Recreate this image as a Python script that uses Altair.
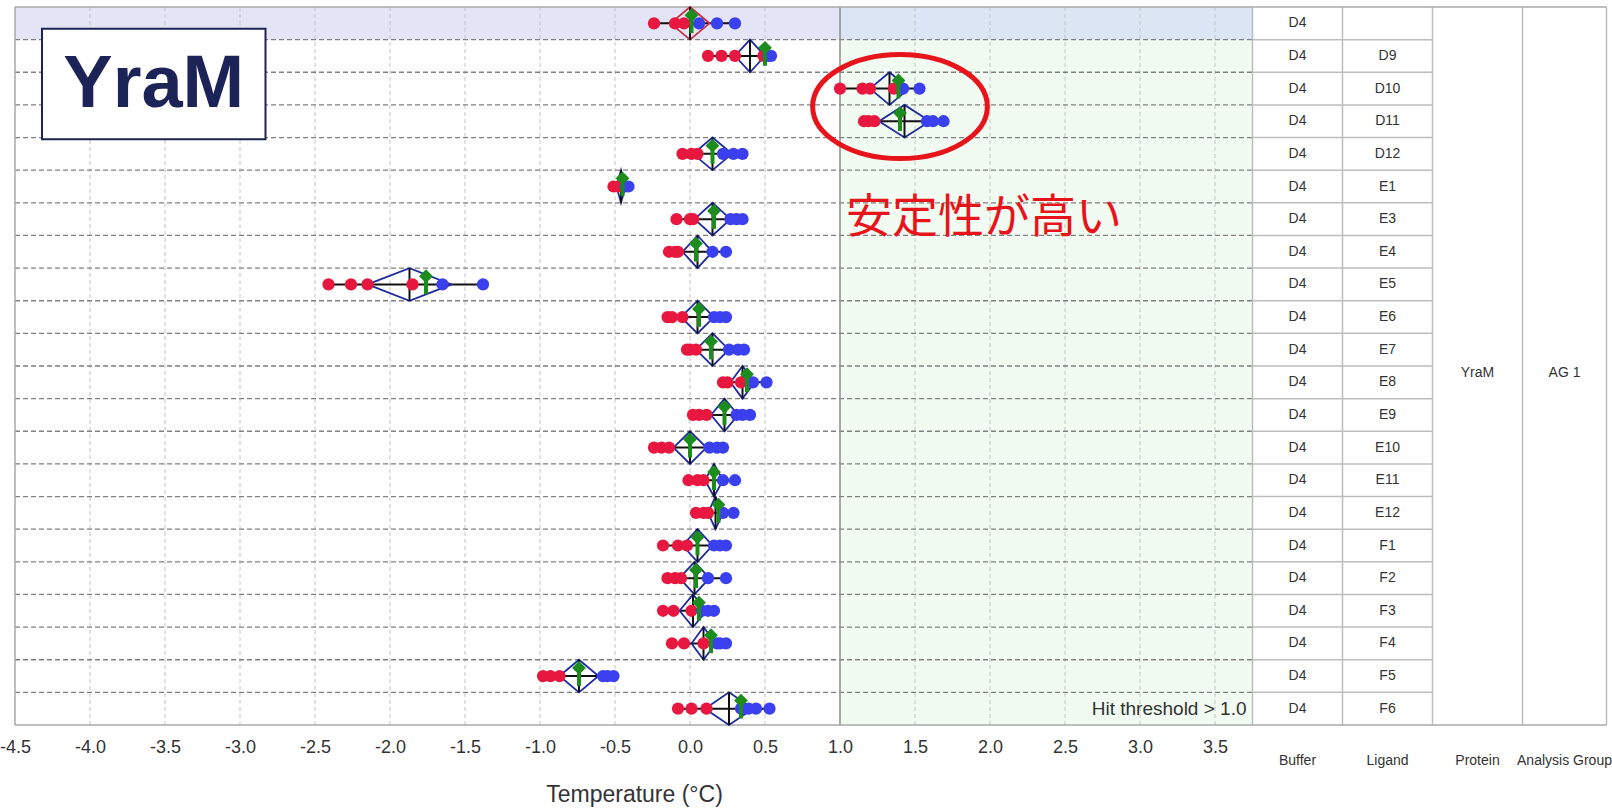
import altair as alt
import pandas as pd

# ---- data -----------------------------------------------------------------
ligands = ["", "D9", "D10", "D11", "D12", "E1", "E3", "E4", "E5", "E6", "E7",
           "E8", "E9", "E10", "E11", "E12", "F1", "F2", "F3", "F4", "F5", "F6"]
buffer_name = "D4"
protein_name = "YraM"
group_name = "AG 1"

# replicate melting-temperature shifts (°C) per well
red_reps = [
    [-0.24, -0.10, -0.04], [0.12, 0.21, 0.30, 0.49], [1.00, 1.15, 1.20, 1.36],
    [1.16, 1.19, 1.23], [-0.05, 0.01, 0.05], [-0.51, -0.48],
    [-0.09, 0.00, 0.02], [-0.14, -0.10, -0.08], [-2.41, -2.26, -2.15, -1.85],
    [-0.15, -0.12, -0.05], [-0.02, 0.00, 0.04], [0.22, 0.25, 0.34],
    [0.02, 0.06, 0.11], [-0.24, -0.19, -0.14], [-0.01, 0.05, 0.09],
    [0.04, 0.09, 0.12], [-0.18, -0.08, -0.02], [-0.15, -0.10, -0.06],
    [-0.18, -0.11, 0.01], [-0.12, -0.04, 0.09], [-0.98, -0.93, -0.87],
    [-0.08, 0.01, 0.11],
]
blue_reps = [
    [0.06, 0.18, 0.30], [0.52, 0.54], [1.42, 1.53], [1.58, 1.62, 1.69],
    [0.22, 0.29, 0.35], [-0.43, -0.41], [0.27, 0.31, 0.35], [0.15, 0.24],
    [-1.65, -1.38], [0.16, 0.20, 0.24], [0.26, 0.32, 0.36], [0.42, 0.51],
    [0.31, 0.35, 0.40], [0.13, 0.18, 0.22], [0.22, 0.30], [0.22, 0.29],
    [0.16, 0.20, 0.24], [0.12, 0.24], [0.08, 0.12, 0.16], [0.18, 0.20, 0.24],
    [-0.58, -0.55, -0.51], [0.34, 0.39, 0.44, 0.53],
]
green_vals = [0.01, 0.50, 1.39, 1.40, 0.15, -0.45, 0.16, 0.04, -1.76, 0.06, 0.14,
              0.38, 0.23, 0.00, 0.16, 0.19, 0.05, 0.04, 0.06, 0.14, -0.74, 0.34]
diamond_mid = [0.00, 0.40, 1.33, 1.43, 0.15, -0.46, 0.15, 0.05, -1.87, 0.05, 0.15,
               0.35, 0.23, 0.00, 0.16, 0.17, 0.05, 0.03, 0.02, 0.09, -0.74, 0.26]
diamond_half = [0.13, 0.10, 0.13, 0.17, 0.13, 0.03, 0.12, 0.10, 0.28, 0.11, 0.11,
                0.08, 0.09, 0.11, 0.06, 0.05, 0.10, 0.10, 0.09, 0.08, 0.13, 0.16]

x_ticks = [-4.5, -4.0, -3.5, -3.0, -2.5, -2.0, -1.5, -1.0, -0.5, 0.0, 0.5,
           1.0, 1.5, 2.0, 2.5, 3.0, 3.5]
hit_threshold = 1.0
x_min, x_plot_max = -4.5, 3.75
table_edges = [3.75, 4.35, 4.95, 5.55, 6.11]
table_headers = ["Buffer", "Ligand", "Protein", "Analysis Group"]
n_rows = len(ligands)

# ---- tables for the marks ---------------------------------------------------
pts, spans, diamonds, means, greens = [], [], [], [], []
for i in range(n_rows):
    yc = i + 0.5
    for v in red_reps[i]:
        pts.append({"x": v, "y": yc, "grp": "red"})
    for v in blue_reps[i]:
        pts.append({"x": v, "y": yc, "grp": "blue"})
    allv = red_reps[i] + blue_reps[i]
    spans.append({"x": min(allv), "x2": max(allv), "y": yc})
    c, h = diamond_mid[i], diamond_half[i]
    ctrl = "ctrl" if i == 0 else "test"
    for k, (vx, vy) in enumerate([(c - h, yc), (c, i), (c + h, yc), (c, i + 1), (c - h, yc)]):
        diamonds.append({"row": i, "k": k, "x": vx, "y": vy, "kind": ctrl})
    means.append({"x": c, "y": i, "y2": i + 1})
    greens.append({"x": green_vals[i], "y": i + 0.25, "y2": i + 0.8})

pts = pd.DataFrame(pts)
spans = pd.DataFrame(spans)
diamonds = pd.DataFrame(diamonds)
means = pd.DataFrame(means)
greens = pd.DataFrame(greens)

xs = alt.Scale(domain=[x_min, 6.12], nice=False, zero=False)
ys = alt.Scale(domain=[0, n_rows], reverse=True, nice=False, zero=False)
xaxis = alt.Axis(
    values=x_ticks, labelExpr="(datum.value < 0 ? '-' : '') + format(abs(datum.value), '.1f')",
    labelFont="Liberation Sans", labelFontSize=18, labelColor="#333333",
    labelPadding=13, labelFlush=False, labelOverlap=False, labelBound=False,
    ticks=False, domain=False, grid=False,
    title="Temperature (°C)", titleFont="Liberation Sans", titleFontSize=23,
    titleFontWeight="normal", titleColor="#333333", titleX=619, titleY=69,
    titleAlign="center", titleBaseline="middle",
)


def X(field="x"):
    return alt.X(f"{field}:Q", scale=xs, axis=xaxis)


def Y(field="y"):
    return alt.Y(f"{field}:Q", scale=ys, axis=None)


# backgrounds: hit zone and reference row
bg = pd.DataFrame([
    {"x": hit_threshold, "x2": x_plot_max, "y": 1, "y2": n_rows, "c": "#f1fbf1"},
    {"x": x_min, "x2": hit_threshold, "y": 0, "y2": 1, "c": "#e3e5f7"},
    {"x": hit_threshold, "x2": x_plot_max, "y": 0, "y2": 1, "c": "#dce5f3"},
])
bg_layer = alt.Chart(bg).mark_rect().encode(
    x=X(), x2="x2:Q", y=Y(), y2="y2:Q", color=alt.Color("c:N", scale=None))

grid_vals = pd.DataFrame({"x": [v for v in x_ticks if v not in (x_min, hit_threshold)]})
grid_vals["y"] = 0
grid_vals["y2"] = n_rows
vgrid = alt.Chart(grid_vals).mark_rule(color="#c4c4c4", strokeDash=[4, 3], strokeWidth=1).encode(
    x=X(), y=Y(), y2="y2:Q")
thr_line = alt.Chart(pd.DataFrame({"x": [hit_threshold], "y": [0], "y2": [n_rows]})).mark_rule(
    color="#8c8c8c", strokeWidth=1.5).encode(x=X(), y=Y(), y2="y2:Q")

hrow = pd.DataFrame({"y": list(range(1, n_rows)), "x": x_min, "x2": x_plot_max})
hgrid = alt.Chart(hrow).mark_rule(color="#808080", strokeDash=[5, 3], strokeWidth=1.3).encode(
    x=X(), x2="x2:Q", y=Y())

# table grid
tv = pd.DataFrame({"x": table_edges, "y": 0, "y2": n_rows})
tvl = alt.Chart(tv).mark_rule(color="#bdbdbd", strokeWidth=1.5).encode(x=X(), y=Y(), y2="y2:Q")
th = pd.DataFrame({"y": list(range(1, n_rows)), "x": table_edges[0], "x2": table_edges[2]})
thl = alt.Chart(th).mark_rule(color="#bdbdbd", strokeWidth=1.5).encode(x=X(), x2="x2:Q", y=Y())
frame_h = pd.DataFrame({"y": [0, n_rows], "x": x_min, "x2": table_edges[-1]})
frame_hl = alt.Chart(frame_h).mark_rule(color="#a8a8a8", strokeWidth=1.5).encode(x=X(), x2="x2:Q", y=Y())
frame_v = alt.Chart(pd.DataFrame({"x": [x_min], "y": [0], "y2": [n_rows]})).mark_rule(
    color="#a8a8a8", strokeWidth=1.5).encode(x=X(), y=Y(), y2="y2:Q")

# replicate span and diamonds
span_layer = alt.Chart(spans).mark_rule(color="#111111", strokeWidth=2).encode(x=X(), x2="x2:Q", y=Y())
dia_layer = alt.Chart(diamonds).mark_line(strokeWidth=1.8).encode(
    x=X(), y=Y(), detail="row:N", order="k:Q",
    color=alt.Color("kind:N", scale=alt.Scale(domain=["ctrl", "test"], range=["#c8304a", "#1f2a9e"]), legend=None))
mean_layer = alt.Chart(means).mark_rule(color="#111111", strokeWidth=2).encode(x=X(), y=Y(), y2="y2:Q")

pt_layer = alt.Chart(pts).mark_circle(size=150, opacity=1).encode(
    x=X(), y=Y(),
    fill=alt.Fill("grp:N", scale=alt.Scale(domain=["red", "blue"], range=["#e8173f", "#3b40ee"]), legend=None))

green_bar = alt.Chart(greens).mark_rule(color="#1c8c1c", strokeWidth=4).encode(x=X(), y=Y(), y2="y2:Q")
green_pt = alt.Chart(greens).mark_point(shape="diamond", filled=True, size=190, color="#1c8c1c", opacity=1).encode(
    x=X(), y=Y())

# table text
cells = pd.DataFrame({
    "y": [i + 0.5 for i in range(n_rows)] * 2,
    "x": [(table_edges[0] + table_edges[1]) / 2] * n_rows + [(table_edges[1] + table_edges[2]) / 2] * n_rows,
    "t": [buffer_name] * n_rows + ligands,
})
merged = pd.DataFrame({
    "x": [(table_edges[2] + table_edges[3]) / 2, (table_edges[3] + table_edges[4]) / 2],
    "y": [11.2, 11.2], "t": [protein_name, group_name]})
heads = pd.DataFrame({
    "x": [(table_edges[j] + table_edges[j + 1]) / 2 for j in range(4)],
    "y": [23.1] * 4, "t": table_headers})
narrow = "Liberation Sans Narrow, Liberation Sans, sans-serif"
cell_txt = alt.Chart(pd.concat([cells, merged, heads], ignore_index=True)).mark_text(
    font=narrow, fontSize=14, color="#333333", baseline="middle").encode(x=X(), y=Y(), text="t:N")

hit_txt = alt.Chart(pd.DataFrame({"x": [3.71], "y": [21.5], "t": [f"Hit threshold > {hit_threshold:.1f}"]})).mark_text(
    font="Liberation Sans", fontSize=19, color="#333333", align="right", baseline="middle").encode(
    x=X(), y=Y(), text="t:N")

# annotations
box = alt.Chart(pd.DataFrame({"x": [-4.32], "x2": [-2.83], "y": [0.67], "y2": [4.05]})).mark_rect(
    fill="white", stroke="#1c2357", strokeWidth=2).encode(x=X(), x2="x2:Q", y=Y(), y2="y2:Q")
box_txt = alt.Chart(pd.DataFrame({"x": [-3.575], "y": [2.4], "t": [protein_name]})).mark_text(
    font="Liberation Sans", fontSize=74, fontWeight="bold", color="#1c2357", baseline="middle").encode(
    x=X(), y=Y(), text="t:N")
ellipse_path = ("M-1.68,0C-1.68,-0.5523,-0.9279,-1,0,-1C0.9279,-1,1.68,-0.5523,1.68,0"
                "C1.68,0.5523,0.9279,1,0,1C-0.9279,1,-1.68,0.5523,-1.68,0Z")
ellipse = alt.Chart(pd.DataFrame({"x": [1.4], "y": [3.05]})).mark_point(
    shape=ellipse_path, size=10816, filled=False,
    stroke="#e8141c", strokeWidth=5, opacity=1).encode(x=X(), y=Y())
note = alt.Chart(pd.DataFrame({"x": [1.04], "y": [6.45], "t": ["安定性が高い"]})).mark_text(
    font="Noto Sans CJK JP", fontSize=46, color="#e8141c", align="left", baseline="middle").encode(
    x=X(), y=Y(), text="t:N")

chart = alt.layer(
    bg_layer, vgrid, hgrid, thr_line, tvl, thl, frame_hl, frame_v,
    span_layer, dia_layer, mean_layer, pt_layer, green_bar, green_pt,
    cell_txt, hit_txt, box, box_txt, ellipse, note,
).properties(
    width=1593, height=718,
    autosize=alt.AutoSizeParams(type="none"),
    padding={"left": 15, "top": 7, "right": 4, "bottom": 83},
    background="white",
).configure_view(stroke=None)

chart.save("out.html", embed_options={"renderer": "svg", "actions": False})
